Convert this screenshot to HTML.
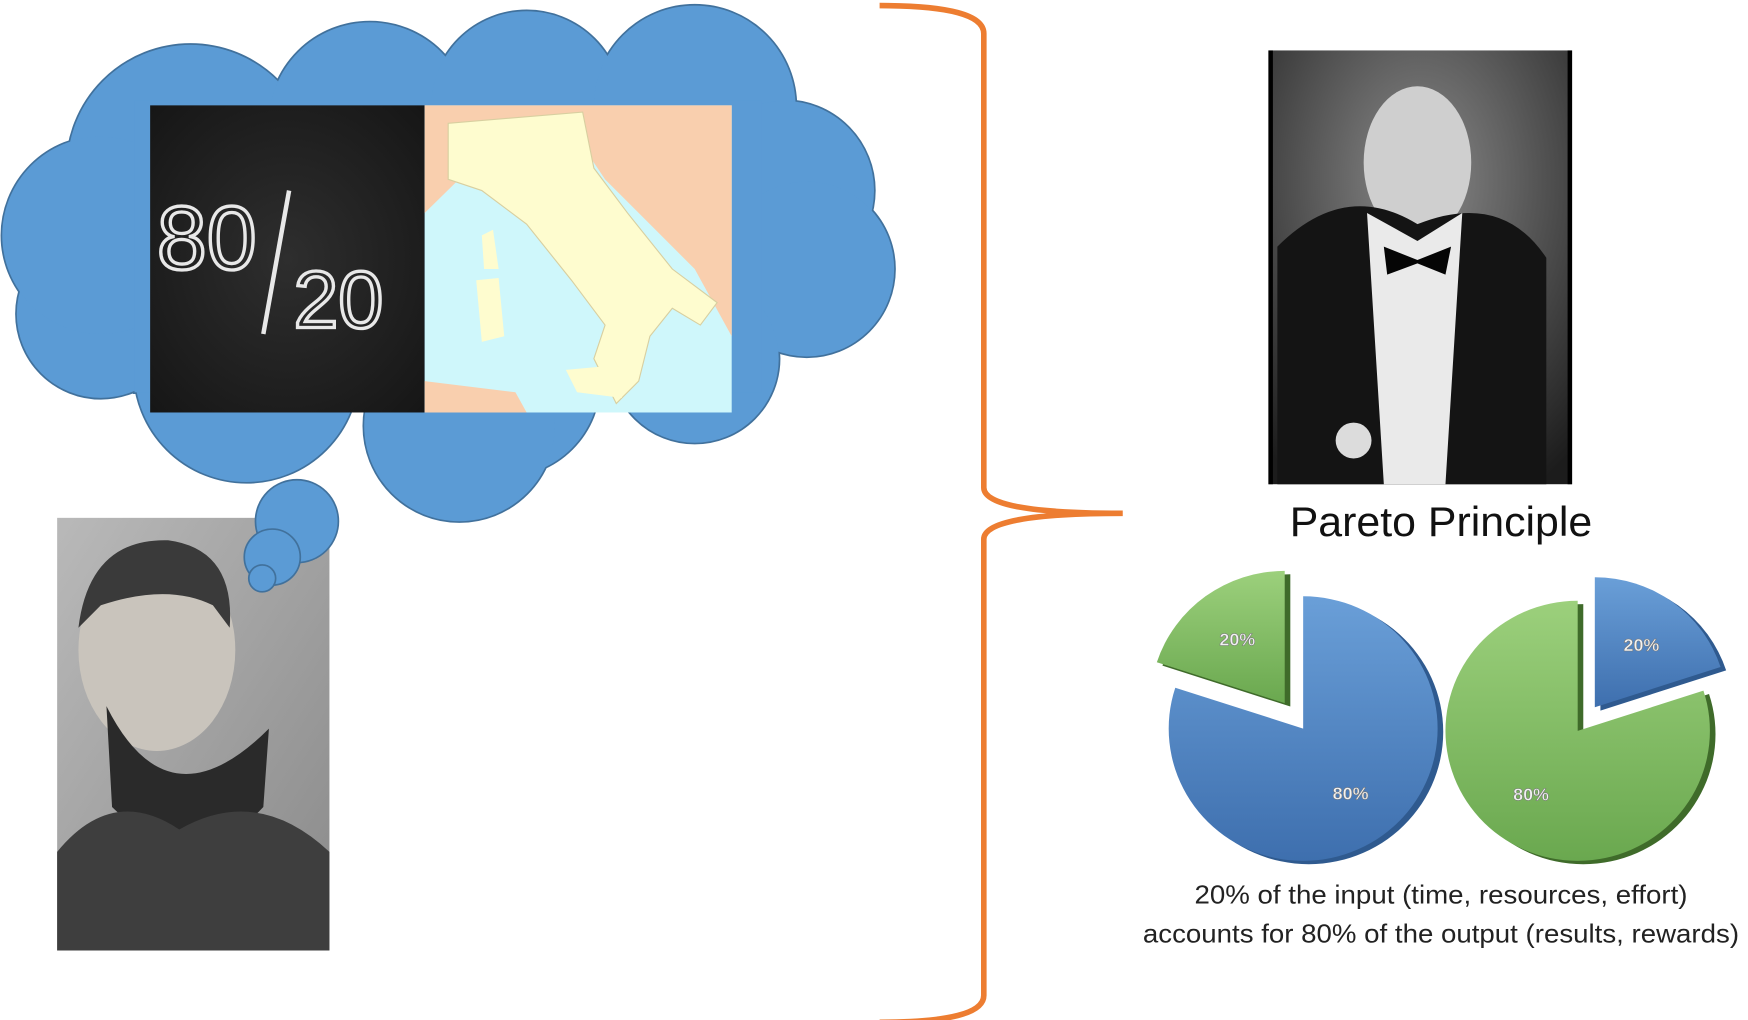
<!DOCTYPE html>
<html><head><meta charset="utf-8"><style>
html,body{margin:0;padding:0;background:#fff;}
svg{display:block;}
text{font-family:"Liberation Sans",sans-serif;}
</style></head><body>
<svg id="main" width="1748" height="1020" viewBox="0 0 1560 910" preserveAspectRatio="none" xmlns="http://www.w3.org/2000/svg">
<defs>
<radialGradient id="chalk" cx="0.5" cy="0.5" r="0.7"><stop offset="0" stop-color="#2e2e2e"/><stop offset="1" stop-color="#161616"/></radialGradient>
<linearGradient id="photo1" x1="0" y1="0" x2="1" y2="1"><stop offset="0" stop-color="#b9b9b9"/><stop offset="1" stop-color="#8a8a8a"/></linearGradient>
<radialGradient id="photo2" cx="0.5" cy="0.3" r="0.8"><stop offset="0" stop-color="#8a8a8a"/><stop offset="1" stop-color="#1c1c1c"/></radialGradient>
<linearGradient id="blueG" x1="0" y1="0" x2="0" y2="1"><stop offset="0" stop-color="#6a9fd8"/><stop offset="1" stop-color="#3e6fae"/></linearGradient>
<linearGradient id="greenG" x1="0" y1="0" x2="0" y2="1"><stop offset="0" stop-color="#9cd07c"/><stop offset="1" stop-color="#6aa84f"/></linearGradient>
<g id="lobes">
<circle cx="170" cy="150" r="110"/><circle cx="330" cy="110" r="90"/><circle cx="470" cy="95" r="85"/><circle cx="620" cy="95" r="90"/>
<circle cx="700" cy="170" r="80"/><circle cx="720" cy="240" r="78"/><circle cx="620" cy="320" r="75"/><circle cx="450" cy="340" r="85"/>
<circle cx="410" cy="380" r="85"/><circle cx="220" cy="330" r="100"/><circle cx="90" cy="280" r="75"/><circle cx="90" cy="210" r="88"/>
<rect x="120" y="90" width="560" height="260"/>
</g>
</defs>

<g>
<use href="#lobes" fill="#41719c" stroke="#41719c" stroke-width="3"/>
<use href="#lobes" fill="#5b9bd5"/>
</g>

<g>
<rect x="134" y="94" width="245" height="274" fill="url(#chalk)"/>
<text x="140" y="240" font-size="80" fill="none" stroke="#e8e8e8" stroke-width="3">80</text>
<line x1="258" y1="170" x2="235" y2="298" stroke="#e8e8e8" stroke-width="4"/>
<text x="262" y="292" font-size="72" fill="none" stroke="#e8e8e8" stroke-width="3">20</text>
</g>
<g>
<rect x="379" y="94" width="274" height="274" fill="#cff7fb"/>
<path d="M379 94 H653 V300 L620 240 L580 200 L540 160 L520 130 L470 130 L430 140 L379 190 Z" fill="#f9cfae"/>
<path d="M400 110 L520 100 L530 150 L560 190 L600 240 L640 270 L625 290 L600 275 L580 300 L570 340 L550 360 L530 320 L540 290 L510 250 L470 200 L430 170 L400 160 Z" fill="#fefccf" stroke="#d8cfa0"/>
<path d="M425 250 L445 248 L450 300 L430 305 Z" fill="#fefccf"/>
<path d="M430 210 L440 205 L445 240 L432 240 Z" fill="#fefccf"/>
<path d="M505 330 L560 325 L555 355 L515 350 Z" fill="#fefccf"/>
<path d="M379 340 L460 350 L470 368 L379 368 Z" fill="#f9cfae"/>
</g>

<g>
<rect x="51" y="462" width="243" height="386" fill="url(#photo1)"/>
<ellipse cx="140" cy="580" rx="70" ry="90" fill="#c9c4bc"/>
<path d="M70 560 Q80 480 150 482 Q210 490 205 560 L190 540 Q150 520 90 540 Z" fill="#3a3a3a"/>
<path d="M95 630 Q150 740 240 650 L235 720 Q170 790 100 720 Z" fill="#2a2a2a"/>
<path d="M51 760 Q100 700 160 740 Q230 700 294 760 V848 H51 Z" fill="#3e3e3e"/>
</g>

<g fill="#5b9bd5" stroke="#41719c" stroke-width="1.5">
<circle cx="265" cy="465" r="37"/><circle cx="243" cy="497" r="25"/><circle cx="234" cy="516" r="12"/>
</g>

<path d="M785 5 Q878 5 878 30 V435 Q878 458 1002 458 Q878 458 878 481 V888 Q878 912 785 912" fill="none" stroke="#ed7d31" stroke-width="5"/>

<g>
<rect x="1132" y="45" width="271" height="387" fill="url(#photo2)"/>
<ellipse cx="1265" cy="145" rx="48" ry="68" fill="#cfcfcf"/>
<path d="M1140 432 V220 Q1200 160 1265 200 Q1340 170 1380 230 V432 Z" fill="#141414"/>
<path d="M1220 190 L1265 215 L1305 190 L1290 432 H1235 Z" fill="#eaeaea"/>
<path d="M1235 220 L1265 232 L1295 220 L1290 245 L1265 235 L1238 245 Z" fill="#050505"/>
<circle cx="1208" cy="393" r="16" fill="#dcdcdc"/>
<rect x="1132" y="45" width="4" height="387" fill="#000"/><rect x="1399" y="45" width="4" height="387" fill="#000"/>
</g>

<text x="1286" y="478" font-size="37" text-anchor="middle" fill="#111" textLength="270" lengthAdjust="spacingAndGlyphs">Pareto Principle</text>
<g id="pies"></g>
<text x="1286" y="806" font-size="23" text-anchor="middle" fill="#222" textLength="440" lengthAdjust="spacingAndGlyphs">20% of the input (time, resources, effort)</text>
<text x="1286" y="841" font-size="23" text-anchor="middle" fill="#222" textLength="532" lengthAdjust="spacingAndGlyphs">accounts for 80% of the output (results, rewards)</text>
</svg>
<script>
const pieLabels = ["80%", "20%"];
const leftPieValues = [80, 20];
const rightPieValues = [80, 20];
const NS = "http://www.w3.org/2000/svg";
const g = document.getElementById("pies");
function drawPie(cx, cy, rx, ry, values, colors, name, off) {
  const total = values.reduce((a, b) => a + b, 0);
  let starts = [];
  if (name === "left") { starts = [0, (values[0] / total) * 360]; }
  else { starts = [(values[1] / total) * 360, 0]; }
  values.forEach((v, i) => {
    const sweep = (v / total) * 360;
    const a0 = starts[i], a1 = a0 + sweep;
    const mid = (a0 + a1) / 2 * Math.PI / 180;
    const d = i === 1 ? off : 0;
    const ox = cx + Math.sin(mid) * d, oy = cy - Math.cos(mid) * d;
    const p = (a) => [ox + rx * Math.sin(a * Math.PI / 180), oy - ry * Math.cos(a * Math.PI / 180)];
    const [x0, y0] = p(a0), [x1, y1] = p(a1);
    const large = sweep > 180 ? 1 : 0;
    const shadow = document.createElementNS(NS, "path");
    shadow.setAttribute("d", `M${ox + 5} ${oy + 3} L${x0 + 5} ${y0 + 3} A${rx} ${ry} 0 ${large} 1 ${x1 + 5} ${y1 + 3} Z`);
    shadow.setAttribute("fill", colors[i][1]);
    
    
    g.appendChild(shadow);
    const path = document.createElementNS(NS, "path");
    path.setAttribute("d", `M${ox} ${oy} L${x0} ${y0} A${rx} ${ry} 0 ${large} 1 ${x1} ${y1} Z`);
    path.setAttribute("fill", colors[i][0]);
    
    
    g.appendChild(path);
    const t = document.createElementNS(NS, "text");
    const lx = ox + Math.sin(mid) * rx * 0.6, ly = oy - Math.cos(mid) * ry * 0.6;
    t.setAttribute("x", lx); t.setAttribute("y", ly + 6);
    t.setAttribute("text-anchor", "middle"); t.setAttribute("font-size", "16");
    t.setAttribute("font-weight", "bold"); t.setAttribute("fill", "#f2f2f2");
    t.setAttribute("stroke", "#777"); t.setAttribute("stroke-width", "0.5");
    
    
    t.textContent = pieLabels[i];
    g.appendChild(t);
  });
}
const blue = ["url(#blueG)", "#2f5a8f"], green = ["url(#greenG)", "#3f6b2a"];
drawPie(1163, 650, 120, 118, leftPieValues, [blue, green], "left", 28);
drawPie(1408, 652, 118, 116, rightPieValues, [green, blue], "right", 26);
</script>
</body></html>
